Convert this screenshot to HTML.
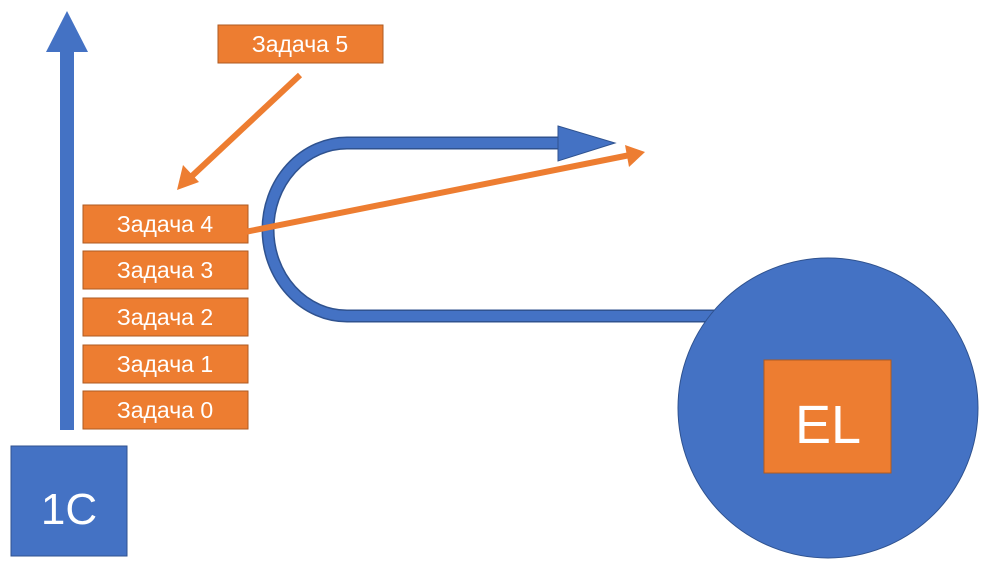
<!DOCTYPE html>
<html><head><meta charset="utf-8"><style>
html,body{margin:0;padding:0;background:#fff;width:990px;height:566px;overflow:hidden}
text{font-family:"Liberation Sans","DejaVu Sans",sans-serif;fill:#fff}
</style></head><body>
<svg width="990" height="566" viewBox="0 0 990 566" xmlns="http://www.w3.org/2000/svg">
<rect x="60" y="50" width="14" height="380" fill="#4472c4"/>
<polygon points="67,11 46,52 88,52" fill="#4472c4"/>
<rect x="11" y="446" width="116" height="110" fill="#4472c4" stroke="#2f528f" stroke-width="1"/>
<text x="69" y="524" font-size="44" text-anchor="middle">1C</text>
<path d="M720,316 H347 A79,86.5 0 0 1 347,143 H560" fill="none" stroke="#2f528f" stroke-width="13"/>
<path d="M720,316 H347 A79,86.5 0 0 1 347,143 H560" fill="none" stroke="#4472c4" stroke-width="10"/>
<polygon points="558,126 615,143 558,161" fill="#4472c4" stroke="#2f528f" stroke-width="1"/>
<circle cx="828" cy="408" r="150" fill="#4472c4" stroke="#2f528f" stroke-width="1"/>
<rect x="764" y="360" width="127" height="113" fill="#ed7d31" stroke="#ae5a21" stroke-width="1"/>
<text x="828" y="443" font-size="54" text-anchor="middle">EL</text>
<g stroke="#ae5a21" stroke-width="1" fill="#ed7d31">
<rect x="218" y="25" width="165" height="38"/>
<rect x="83" y="205" width="165" height="38"/>
<rect x="83" y="251" width="165" height="38"/>
<rect x="83" y="298" width="165" height="38"/>
<rect x="83" y="345" width="165" height="38"/>
<rect x="83" y="391" width="165" height="38"/>
</g>
<g font-size="23" text-anchor="middle">
<text x="300" y="52">Задача 5</text>
<text x="165" y="232">Задача 4</text>
<text x="165" y="278">Задача 3</text>
<text x="165" y="325">Задача 2</text>
<text x="165" y="372">Задача 1</text>
<text x="165" y="418">Задача 0</text>
</g>
<line x1="300" y1="75" x2="192" y2="176" stroke="#ed7d31" stroke-width="6"/>
<polygon points="177,190 183,165 199,182" fill="#ed7d31"/>
<line x1="245" y1="232" x2="630" y2="155" stroke="#ed7d31" stroke-width="6"/>
<polygon points="645,152 625,145 629,167" fill="#ed7d31"/>
</svg>
</body></html>
